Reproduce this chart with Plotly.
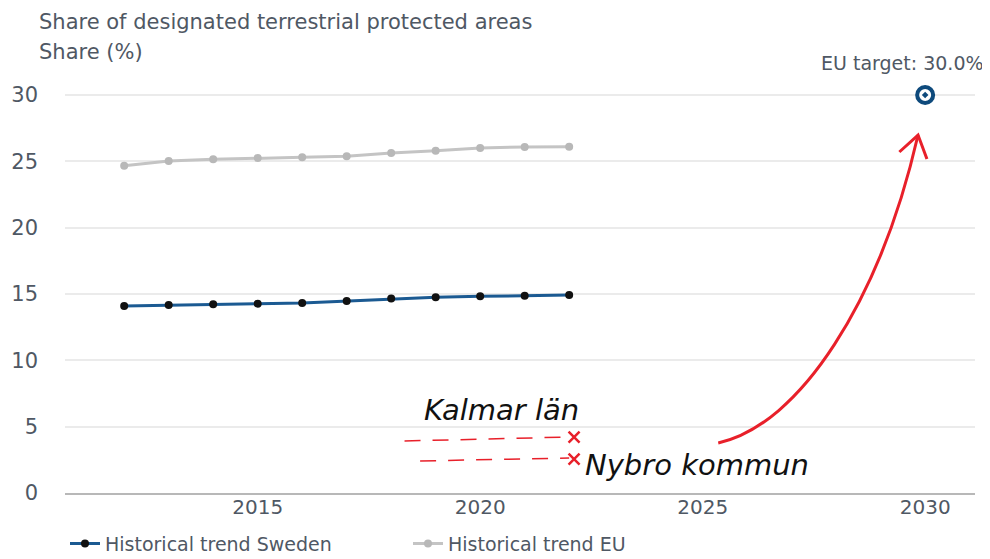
import plotly.graph_objects as go

# historical series, share (%) of designated terrestrial protected areas
years = [2012, 2013, 2014, 2015, 2016, 2017, 2018, 2019, 2020, 2021, 2022]
sweden = [14.1, 14.17, 14.22, 14.27, 14.32, 14.47, 14.65, 14.75, 14.82, 14.87, 14.92]
eu = [24.67, 25.03, 25.15, 25.25, 25.3, 25.38, 25.63, 25.8, 26.0, 26.08, 26.1]

target_year = [2030]
target_value = [30.0]

# hand drawn red notes
kalmar_x = [2018.3, 2022.0]
kalmar_y = [3.92, 4.22]
nybro_x = [2018.65, 2022.0]
nybro_y = [2.41, 2.64]
cross_x = [2022.11, 2022.11]
cross_y = [4.22, 2.56]
# curved arrow: start, two control points, tip
arrow_x = [2025.35, 2027.19, 2028.99, 2029.84]
arrow_y = [3.77, 5.12, 14.54, 26.98]
head_x = [2029.42, 2029.84, 2030.04]
head_y = [25.7, 26.98, 25.17]

TEXT = "#4f5864"
RED = "#e8202a"
FONT = "DejaVu Sans, Liberation Sans, sans-serif"

fig = go.Figure()

fig.add_trace(go.Scatter(
    x=years, y=sweden, name="Historical trend Sweden", mode="lines+markers",
    line=dict(color="#1b5a92", width=3), marker=dict(color="#111111", size=8),
))
fig.add_trace(go.Scatter(
    x=years, y=eu, name="Historical trend EU", mode="lines+markers",
    line=dict(color="#c4c4c4", width=3), marker=dict(color="#b8b8b8", size=8),
))
fig.add_trace(go.Scatter(
    x=target_year, y=target_value, mode="markers", showlegend=False, cliponaxis=False,
    marker=dict(symbol="circle-dot", size=16, color="white",
                line=dict(color="#0e4a7c", width=4)),
))

for xs, ys in [(kalmar_x, kalmar_y), (nybro_x, nybro_y)]:
    fig.add_trace(go.Scatter(
        x=xs, y=ys, mode="lines", showlegend=False,
        line=dict(color=RED, width=1.5, dash="16px,12px"),
    ))
fig.add_trace(go.Scatter(
    x=cross_x, y=cross_y, mode="markers", showlegend=False,
    marker=dict(symbol="x-thin", size=11, line=dict(color=RED, width=2.5)),
))
fig.add_trace(go.Scatter(
    x=head_x, y=head_y, mode="lines", showlegend=False,
    line=dict(color=RED, width=3),
))

arrow_path = "M {},{} C {},{} {},{} {},{}".format(
    arrow_x[0], arrow_y[0], arrow_x[1], arrow_y[1],
    arrow_x[2], arrow_y[2], arrow_x[3], arrow_y[3],
)

annotations = [
    dict(text="Share of designated terrestrial protected areas", xref="paper", yref="paper",
         x=-0.031, y=1.16, xanchor="left", yanchor="middle", showarrow=False,
         font=dict(size=21, color=TEXT)),
    dict(text="Share (%)", xref="paper", yref="paper",
         x=-0.031, y=1.085, xanchor="left", yanchor="middle", showarrow=False,
         font=dict(size=21, color=TEXT)),
    dict(text="EU target: 30.0%", x=target_year[0], y=target_value[0], xshift=-23, yshift=32,
         showarrow=False, font=dict(size=19, color=TEXT)),
    dict(text="Kalmar län", x=2018.7, y=6.25, xanchor="left", yanchor="middle", showarrow=False,
         font=dict(size=29, color="#111111", style="italic")),
    dict(text="Nybro kommun", x=2022.31, y=2.1, xanchor="left", yanchor="middle", showarrow=False,
         font=dict(size=29, color="#111111", style="italic")),
]

# the page body adds an 8px offset, so the figure is 8px smaller than the window
fig.update_layout(
    width=982, height=551,
    margin=dict(l=57, r=15, t=79, b=66),
    paper_bgcolor="white", plot_bgcolor="white",
    font=dict(family=FONT, color=TEXT),
    annotations=annotations,
    showlegend=True,
    legend=dict(orientation="h", x=0, xanchor="left", yref="container", y=0.028, yanchor="middle",
                font=dict(size=19, color=TEXT), entrywidth=298, entrywidthmode="pixels",
                itemwidth=30),
    shapes=[dict(type="path", xref="x", yref="y", path=arrow_path,
                 line=dict(color=RED, width=3))],
)
fig.update_xaxes(
    range=[2010.67, 2031.12], tickvals=[2015, 2020, 2025, 2030], showgrid=False,
    showline=True, linecolor="#b8b8b8", linewidth=1.5, zeroline=False, automargin=False,
    tickfont=dict(size=20, color=TEXT), ticks="", ticklabelstandoff=-5,
)
fig.update_yaxes(
    range=[0, 30.6], tickvals=[0, 5, 10, 15, 20, 25, 30], showgrid=True,
    gridcolor="#ebebeb", gridwidth=1.5, zeroline=False, showline=False, automargin=False,
    tickfont=dict(size=21, color=TEXT), ticks="", ticklabelstandoff=26,
)

fig.write_html("out.html")
